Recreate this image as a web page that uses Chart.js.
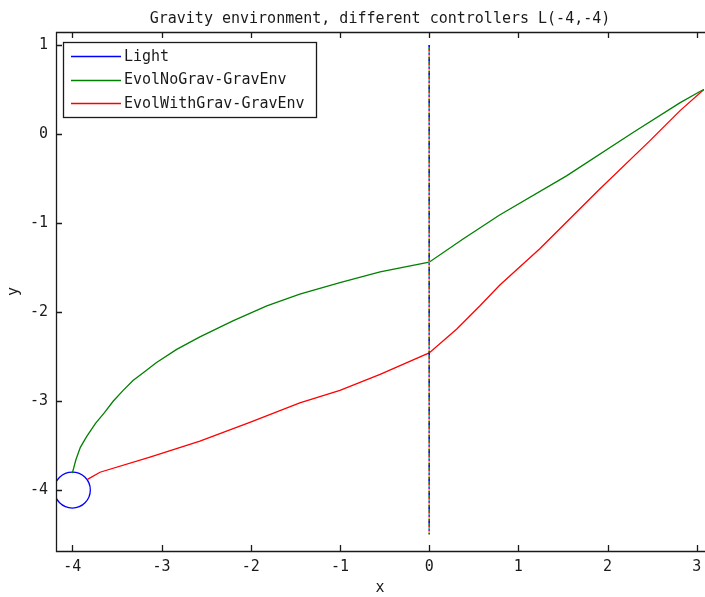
<!DOCTYPE html>
<html><head><meta charset="utf-8">
<script src="https://cdn.jsdelivr.net/npm/chart.js@4/dist/chart.umd.min.js"></script>
<style>html,body{margin:0;padding:0;background:#fff;overflow:hidden}#wrap{width:705px;height:597px;position:relative}</style>
</head><body><div id="wrap"><canvas id="c" width="705" height="597"></canvas></div>
<script>
const titleText = 'Gravity environment, different controllers L(-4,-4)';
const xAxisTitle = 'x';
const yAxisTitle = 'y';
const seriesLabels = ['Light', 'EvolNoGrav-GravEnv', 'EvolWithGrav-GravEnv'];
const seriesColors = ['#0000ff', '#008000', '#ff0000'];
const xTicks = [-4, -3, -2, -1, 0, 1, 2, 3];
const yTicks = [-4, -3, -2, -1, 0, 1];

const lightX = [-4];
const lightY = [-4];

const noGravX = [-4.00, -3.96, -3.91, -3.84, -3.74, -3.64, -3.54, -3.43, -3.32, -3.19, -3.06, -2.83, -2.57, -2.20, -1.82, -1.45, -1.00, -0.55, 0.00, 0.38, 0.79, 1.54, 2.29, 2.81, 3.04, 3.08];
const noGravY = [-3.81, -3.66, -3.52, -3.40, -3.25, -3.13, -3.00, -2.88, -2.77, -2.67, -2.57, -2.42, -2.28, -2.10, -1.93, -1.80, -1.67, -1.55, -1.44, -1.18, -0.91, -0.47, 0.02, 0.35, 0.48, 0.50];

const withGravX = [-3.83, -3.69, -3.13, -2.57, -2.01, -1.45, -1.00, -0.55, 0.00, 0.31, 0.57, 0.79, 1.24, 1.91, 2.47, 2.81, 3.08];
const withGravY = [-3.88, -3.80, -3.63, -3.45, -3.24, -3.02, -2.88, -2.70, -2.46, -2.19, -1.93, -1.70, -1.29, -0.62, -0.08, 0.26, 0.50];

const markerX = [0, 0];
const markerY = [1, -4.5];
const markerColors = ['#0000ff', '#008000', '#ff0000', '#00bfbf', '#bf00bf', '#bfbf00', '#404040'];

const FONT = "'DejaVu Sans Mono', 'Liberation Mono', monospace";
Chart.defaults.font.family = FONT;
Chart.defaults.font.size = 15;
Chart.defaults.color = '#1a1a1a';

const zip = (xs, ys) => xs.map((x, i) => ({x: x, y: ys[i]}));

const datasets = [];
markerColors.forEach((col, i) => {
  datasets.push({
    label: '_marker' + i, data: zip(markerX, markerY), borderColor: col, borderWidth: 1.6,
    borderDash: [2, 12], borderDashOffset: -2 * i, pointRadius: 0, showLine: true
  });
});
datasets.push({label: seriesLabels[1], data: zip(noGravX, noGravY), borderColor: seriesColors[1], borderWidth: 1.3, pointRadius: 0, showLine: true, tension: 0});
datasets.push({label: seriesLabels[2], data: zip(withGravX, withGravY), borderColor: seriesColors[2], borderWidth: 1.3, pointRadius: 0, showLine: true, tension: 0});
datasets.push({label: seriesLabels[0], data: zip(lightX, lightY), borderColor: seriesColors[0], backgroundColor: 'rgba(0,0,0,0)',
  pointBorderColor: seriesColors[0], pointBackgroundColor: 'rgba(0,0,0,0)', pointRadius: 18, pointBorderWidth: 1.3, showLine: false});

const frame = {
  id: 'matlabFrame',
  afterDatasetsDraw(chart) {
    const ctx = chart.ctx, a = chart.chartArea, xs = chart.scales.x, ys = chart.scales.y;
    ctx.save();
    ctx.strokeStyle = '#1a1a1a';
    ctx.lineWidth = 1.3;
    ctx.beginPath();
    ctx.moveTo(chart.width, a.top + 0.5); ctx.lineTo(a.left + 0.5, a.top + 0.5);
    ctx.lineTo(a.left + 0.5, a.bottom + 0.5); ctx.lineTo(chart.width, a.bottom + 0.5);
    const tl = 6;
    xs.ticks.forEach(t => {
      const px = Math.round(xs.getPixelForValue(t.value)) + 0.5;
      ctx.moveTo(px, a.bottom); ctx.lineTo(px, a.bottom - tl);
      ctx.moveTo(px, a.top); ctx.lineTo(px, a.top + tl);
    });
    ys.ticks.forEach(t => {
      const py = Math.round(ys.getPixelForValue(t.value)) + 0.5;
      ctx.moveTo(a.left, py); ctx.lineTo(a.left + tl, py);
    });
    ctx.stroke();

    // title
    ctx.fillStyle = '#1a1a1a';
    ctx.font = '15px ' + FONT;
    ctx.textAlign = 'center';
    ctx.textBaseline = 'middle';
    ctx.fillText(titleText, (a.left + a.right) / 2, 19);

    // legend
    const lx = 63, ly = 42, lw = 253, lh = 75;
    ctx.fillStyle = '#ffffff';
    ctx.fillRect(lx, ly, lw, lh);
    ctx.strokeStyle = '#1a1a1a';
    ctx.lineWidth = 1.3;
    ctx.strokeRect(lx + 0.5, ly + 0.5, lw, lh);
    const rows = [56, 79.5, 103];
    ctx.textAlign = 'left';
    [0, 1, 2].forEach((k, i) => {
      const ds = chart.data.datasets.find(d => d.label === seriesLabels[k]);
      const y = Math.round(rows[i]) + 0.5;
      ctx.strokeStyle = ds.borderColor;
      ctx.lineWidth = 1.5;
      ctx.beginPath(); ctx.moveTo(71, y); ctx.lineTo(121, y); ctx.stroke();
      ctx.fillStyle = '#1a1a1a';
      ctx.fillText(ds.label, 124, rows[i] + 1);
    });
    ctx.restore();
  }
};

new Chart(document.getElementById('c'), {
  type: 'scatter',
  data: {datasets: datasets},
  options: {
    responsive: false,
    animation: false,
    layout: {autoPadding: false, padding: {top: 32, right: 1, left: 0, bottom: 0}},
    plugins: {legend: {display: false}, tooltip: {enabled: false}, title: {display: false}},
    scales: {
      x: {
        type: 'linear', min: -4.183, max: 3.081,
        afterBuildTicks: s => { s.ticks = xTicks.map(v => ({value: v})); },
        afterFit: s => { s.height = 46; s.paddingLeft = 0; s.paddingRight = 0; },
        grid: {display: false, drawTicks: false}, border: {display: false},
        ticks: {padding: 7, maxRotation: 0, autoSkip: false},
        title: {display: true, text: xAxisTitle, padding: {top: 0, bottom: 0}}
      },
      y: {
        type: 'linear', min: -4.685, max: 1.146,
        afterBuildTicks: s => { s.ticks = yTicks.map(v => ({value: v})); },
        afterFit: s => { s.width = 56; s.paddingTop = 0; s.paddingBottom = 0; },
        grid: {display: false, drawTicks: false}, border: {display: false},
        ticks: {padding: 8, autoSkip: false},
        title: {display: true, text: yAxisTitle, padding: {top: 5, bottom: 0}}
      }
    }
  },
  plugins: [frame]
});
</script>
</body></html>
